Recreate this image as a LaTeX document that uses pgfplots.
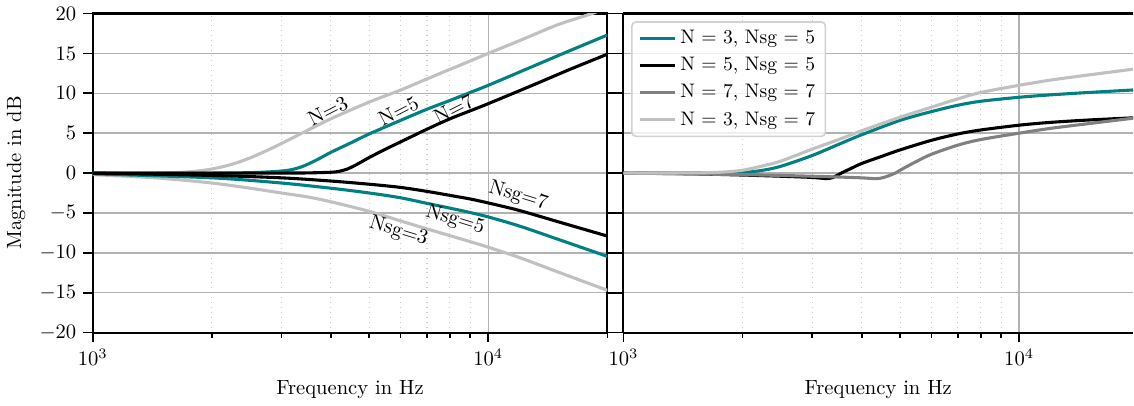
\documentclass[border=0pt]{standalone}
\usepackage{pgfplots}
\pgfplotsset{compat=1.18}
\usetikzlibrary{calc}

\definecolor{mpteal}{RGB}{0,128,128}
\definecolor{mpgray}{RGB}{128,128,128}
\definecolor{mpsilver}{RGB}{192,192,192}

\begin{document}
\begin{tikzpicture}
  % left: boost / cut for different orders
  \begin{axis}[
    name=leftax,
    xmode=log,
    scale only axis,
    width=250pt, height=155pt,
    xmin=1000, xmax=20000,
    ymin=-20, ymax=20,
    xtick={1000,10000},
    minor xtick={2000,3000,4000,5000,6000,7000,8000,9000,20000},
    ytick={-20,-15,...,20},
    tick align=outside,
    xtick pos=left,
    ytick pos=both,
    major tick length=4.5pt,
    minor tick length=2.5pt,
    every tick/.style={black, line width=0.8pt},
    axis line style={line width=1pt},
    xmajorgrids, ymajorgrids, xminorgrids,
    major grid style={gray!60, line width=0.7pt},
    minor grid style={gray!40, dotted, line width=0.5pt},
    xlabel={Frequency in Hz},
    ylabel={Magnitude in dB},
  ]
    % N = 3
    \addplot[mpsilver, line width=1.5pt, smooth] coordinates {
      (1000,0) (1500,0.03) (1750,0.15) (2000,0.5) (2250,1.1) (2500,1.9)
      (2750,2.8) (3000,3.7) (3380,5.0) (4000,6.8) (5000,8.9)
      (6000,10.4) (7000,11.8) (8000,13.0) (9000,14.05) (10000,15.0)
      (12000,16.6) (15000,18.6) (18300,20.0) (20000,20.8)
    };
    % Nsg = 3
    \addplot[mpsilver, line width=1.5pt, smooth] coordinates {
      (1000,-0.2) (1440,-0.6) (2000,-1.25) (2500,-1.9) (3000,-2.5) (3500,-3.0)
      (4000,-3.6) (5000,-4.8) (6000,-6.0) (7000,-7.0) (8000,-7.85) (9000,-8.6)
      (10000,-9.3) (12000,-10.6) (15000,-12.4) (20000,-14.7)
    };
    % N = 5
    \addplot[mpteal, line width=1.5pt, smooth] coordinates {
      (1000,0) (2000,0) (2500,0.05) (2800,0.15) (3000,0.25) (3200,0.45)
      (3400,0.85) (3600,1.4) (3800,2.0) (4000,2.6) (4500,3.8) (5000,4.9)
      (6000,6.6) (7000,8.0) (8000,9.1) (9000,10.1) (10000,11.0)
      (13000,13.4) (16000,15.3) (20000,17.3)
    };
    % Nsg = 5
    \addplot[mpteal, line width=1.5pt, smooth] coordinates {
      (1000,-0.1) (2000,-0.6) (3000,-1.25) (4000,-1.9) (5000,-2.5) (6000,-3.1)
      (7000,-3.8) (8000,-4.4) (9000,-4.95) (10000,-5.5) (12000,-6.65)
      (15000,-8.3) (20000,-10.45)
    };
    % N = 7
    \addplot[black, line width=1.5pt, smooth] coordinates {
      (1000,0) (3000,0) (3500,0.02) (4000,0.1) (4200,0.22) (4400,0.5)
      (4600,0.95) (4800,1.45) (5000,1.95) (5500,3.0) (6000,3.9) (7000,5.5)
      (8000,6.8) (9000,7.8) (10000,8.7) (13000,11.05) (16000,12.95)
      (20000,14.9)
    };
    % Nsg = 7
    \addplot[black, line width=1.5pt, smooth] coordinates {
      (1000,0) (2000,-0.3) (3000,-0.6) (4000,-1.0) (5000,-1.4) (6000,-1.8)
      (7000,-2.3) (8000,-2.8) (9000,-3.25) (10000,-3.75) (12000,-4.7)
      (15000,-6.1) (20000,-7.9)
    };

    \node[rotate=27] at (axis cs:3930,7.75) {N=3};
    \node[rotate=27] at (axis cs:5930,7.75) {N=5};
    \node[rotate=27] at (axis cs:8170,8.0) {N=7};
    \node[rotate=-17] at (axis cs:11900,-2.9) {Nsg=7};
    \node[rotate=-17] at (axis cs:8240,-5.9) {Nsg=5};
    \node[rotate=-17] at (axis cs:5930,-7.3) {Nsg=3};
  \end{axis}

  % right: combinations (cut at the right edge like the original)
  \begin{axis}[
    at={($(leftax.south east)+(7.8pt,0)$)},
    anchor=south west,
    xmode=log,
    scale only axis,
    width=247.5pt, height=155pt,
    xmin=1000, xmax=19400,
    ymin=-20, ymax=20,
    axis x line=box,
    axis y line=left,
    xtick={1000,10000},
    minor xtick={2000,3000,4000,5000,6000,7000,8000,9000},
    ytick={-20,-15,...,20},
    yticklabels={},
    tick align=outside,
    xtick pos=left,
    ytick pos=left,
    major tick length=4.5pt,
    minor tick length=2.5pt,
    every tick/.style={black, line width=0.8pt},
    axis line style={-, line width=1pt},
    xmajorgrids, ymajorgrids, xminorgrids,
    major grid style={gray!60, line width=0.7pt},
    minor grid style={gray!40, dotted, line width=0.5pt},
    xlabel={Frequency in Hz},
    legend cell align=left,
    legend style={
      at={(0.015,0.976)}, anchor=north west,
      draw=gray!35, line width=0.8pt, rounded corners=2pt,
      fill=white, fill opacity=0.8, text opacity=1,
      font=\fontsize{9.5}{11}\selectfont,
      row sep=1.2pt,
    },
    legend image code/.code={
      \draw[#1, line width=1.5pt] (0pt,0pt) -- (17pt,0pt);
    },
  ]
    \addplot[mpteal, line width=1.5pt, smooth] coordinates {
      (1000,0) (1750,0.01) (2000,0.05) (2250,0.35) (2500,0.85) (3000,2.2)
      (3500,3.6) (4000,4.8) (5000,6.6) (6000,7.7) (7000,8.5) (8000,9.0)
      (10000,9.5) (12000,9.8) (15000,10.1) (20000,10.45)
    };
    \addlegendentry{N = 3, Nsg = 5}
    \addplot[black, line width=1.5pt, smooth] coordinates {
      (1000,0) (1500,-0.1) (2000,-0.25) (2500,-0.4) (3000,-0.55) (3300,-0.7)
      (3450,-0.35) (3570,0.05) (3750,0.55) (4000,1.2) (4500,2.1) (5000,2.9)
      (6000,4.1) (7000,4.9) (8000,5.4) (10000,6.0) (12000,6.35) (15000,6.65)
      (20000,6.95)
    };
    \addlegendentry{N = 5, Nsg = 5}
    \addplot[mpgray, line width=1.5pt, smooth] coordinates {
      (1000,0) (2000,-0.2) (3000,-0.4) (3500,-0.5) (4000,-0.6) (4340,-0.7)
      (4550,-0.55) (4870,0.0) (5000,0.35) (5500,1.45) (6000,2.35) (7000,3.5)
      (8000,4.2) (10000,5.0) (12000,5.6) (15000,6.2) (20000,6.95)
    };
    \addlegendentry{N = 7, Nsg = 7}
    \addplot[mpsilver, line width=1.5pt, smooth] coordinates {
      (1000,0) (1500,0.02) (1750,0.1) (2000,0.35) (2250,0.9) (2500,1.5)
      (3000,3.0) (3500,4.2) (4000,5.3) (5000,7.0) (6000,8.25) (7000,9.3)
      (8000,10.1) (10000,11.0) (12000,11.65) (15000,12.3) (20000,13.1)
    };
    \addlegendentry{N = 3, Nsg = 7}
  \end{axis}
\end{tikzpicture}
\end{document}
